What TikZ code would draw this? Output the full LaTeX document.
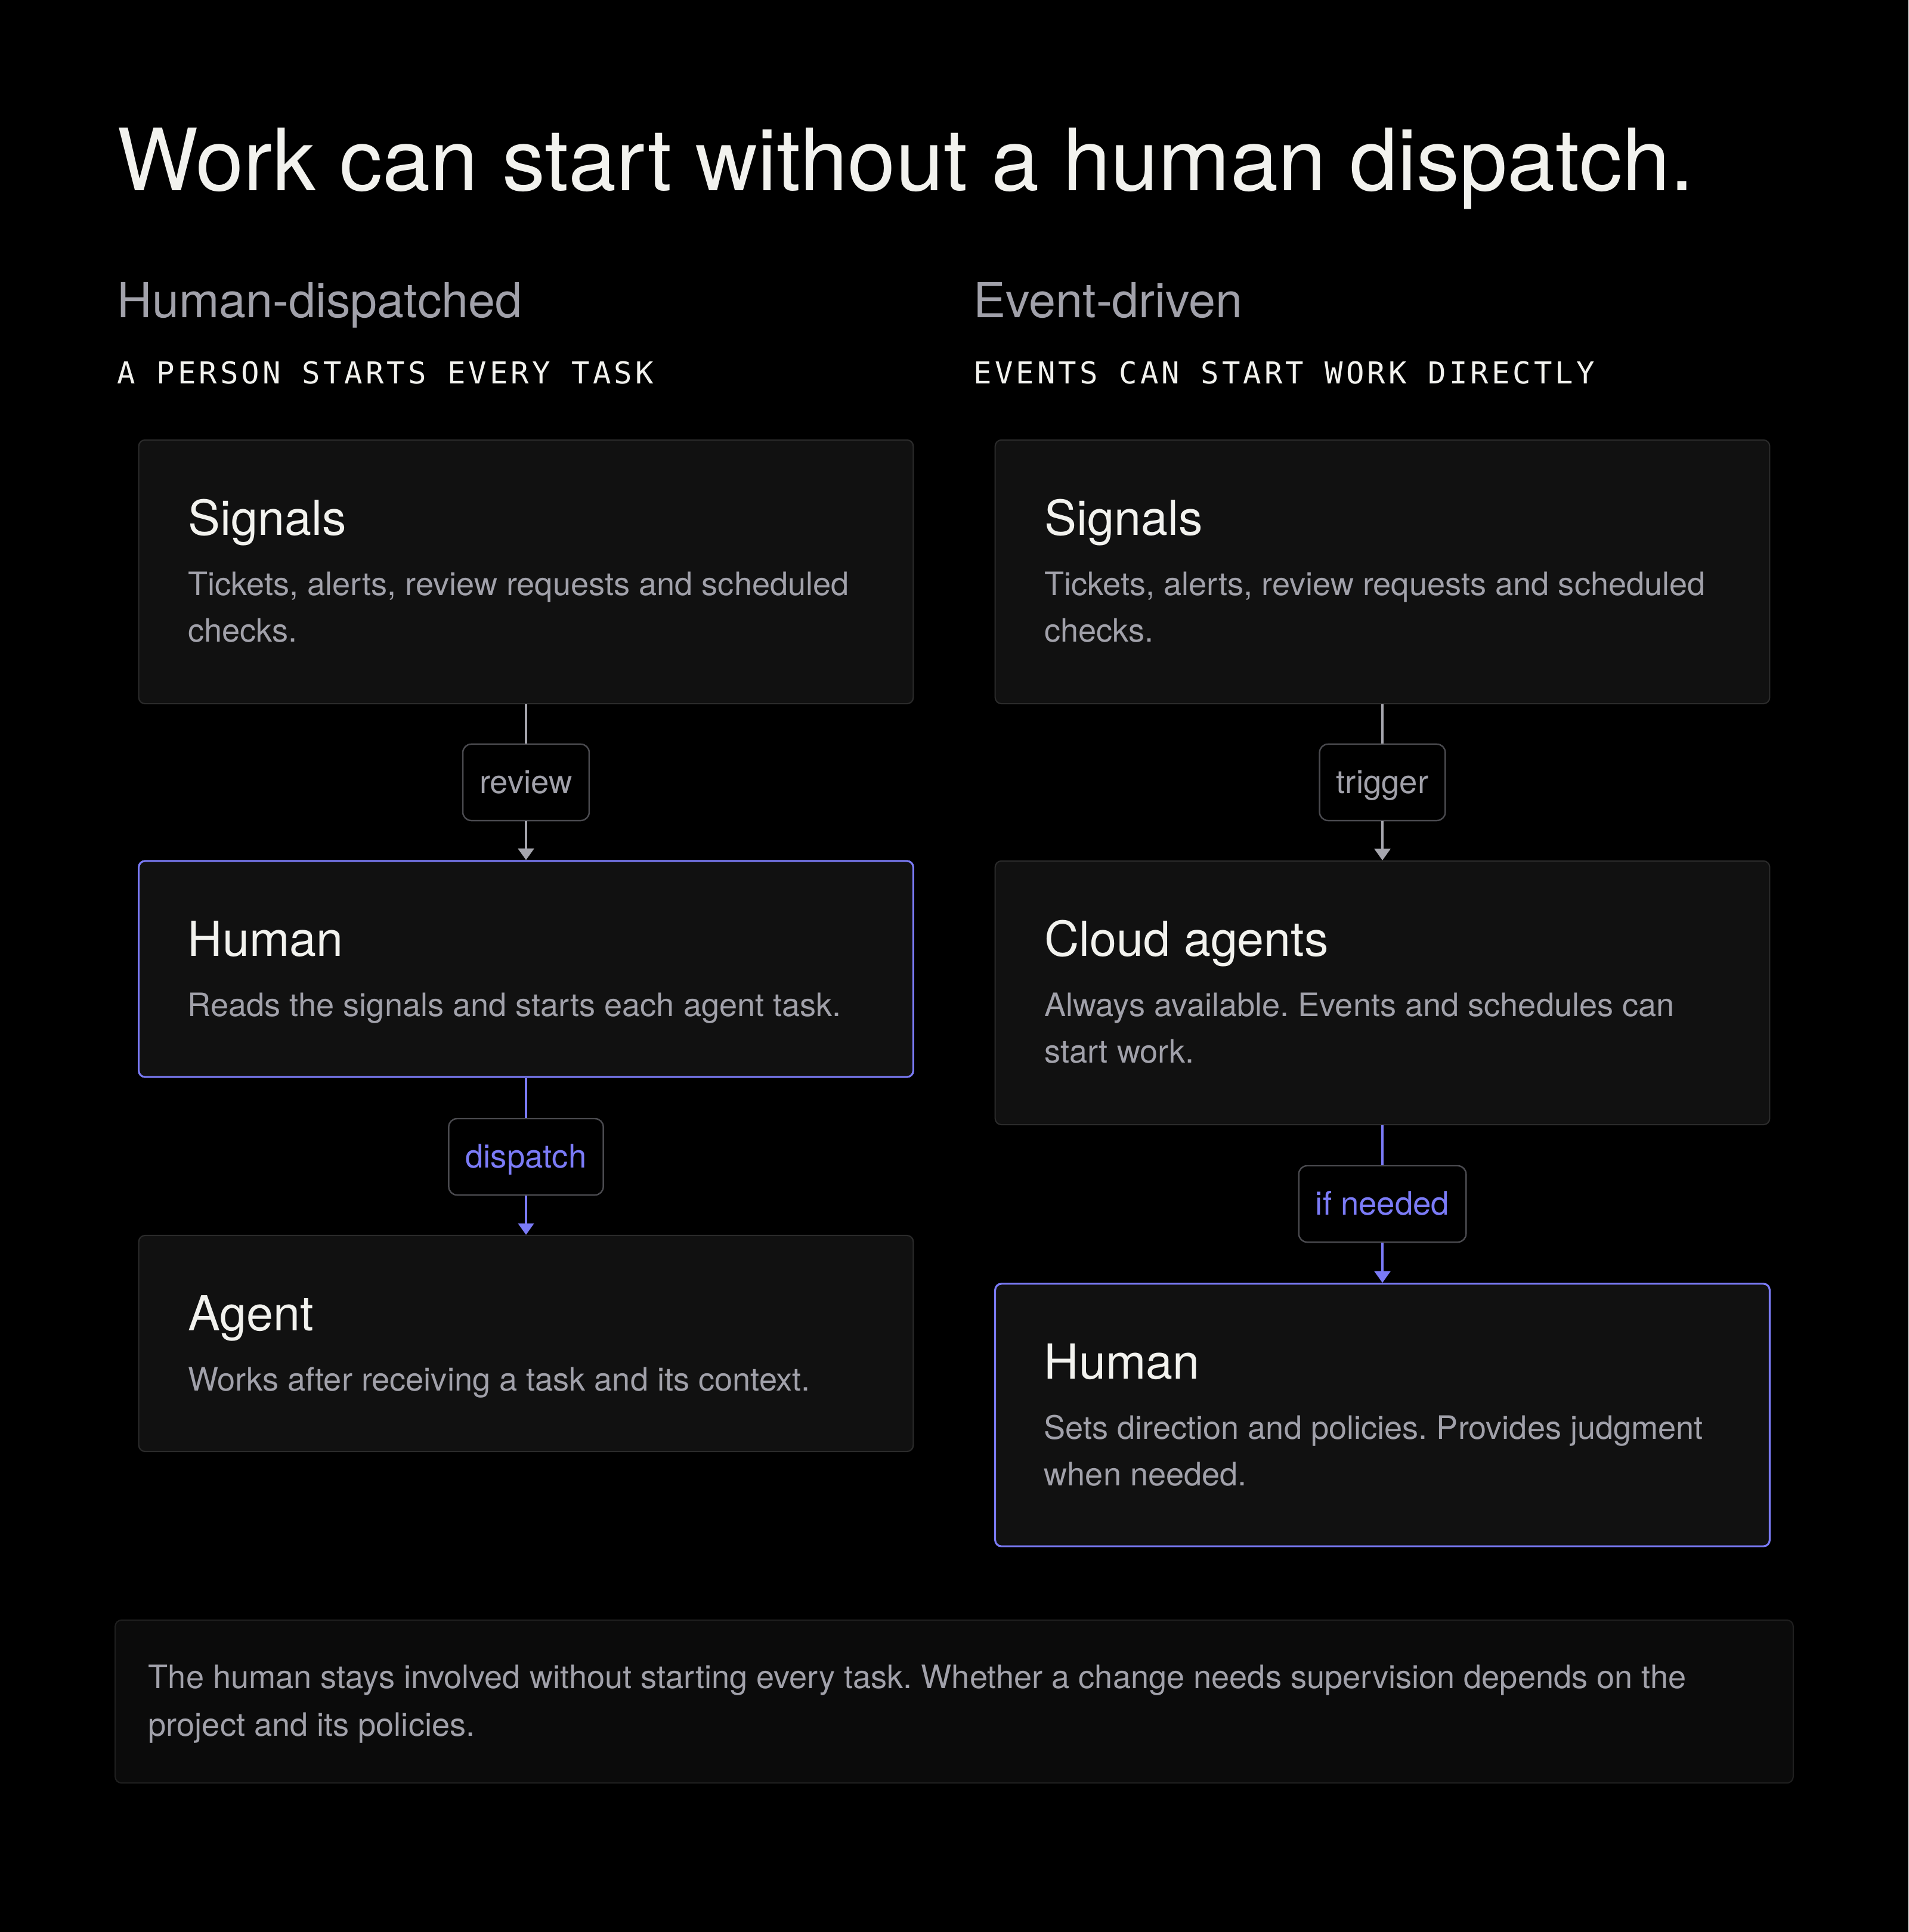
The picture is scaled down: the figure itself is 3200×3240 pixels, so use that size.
\documentclass[tikz,border=0pt]{standalone}
\usepackage{fontspec}
\setmainfont{TeX Gyre Heros}
\newfontfamily\capsmono[LetterSpace=10]{DejaVu Sans Mono}
\usetikzlibrary{arrows.meta, calc, positioning}

\definecolor{cardfill}{HTML}{111111}
\definecolor{cardline}{HTML}{2B2B2B}
\definecolor{notefill}{HTML}{0B0B0B}
\definecolor{noteline}{HTML}{1F1F1F}
\definecolor{accent}{HTML}{7B7BF7}
\definecolor{textwhite}{HTML}{F2F2EE}
\definecolor{textmuted}{HTML}{A1A1AA}
\definecolor{tagline}{HTML}{4A4A4F}
\definecolor{linkgray}{HTML}{A6A6AE}

\frenchspacing
\begin{document}
\begin{tikzpicture}[x=0.01cm, y=-0.01cm,
  card/.style={draw=cardline, fill=cardfill, line width=0.6pt, rounded corners=3pt, minimum width=12.98cm, inner sep=0pt},
  humancard/.style={card, draw=accent, line width=0.9pt},
  cardtitle/.style={anchor=base west, text=textwhite, font=\fontsize{23}{28}\selectfont, inner sep=0pt},
  carddesc/.style={anchor=base west, text=textmuted, font=\fontsize{15.4}{22.2}\selectfont, align=left, inner sep=0pt},
  tag/.style={draw=tagline, fill=black, rounded corners=4pt, line width=0.7pt, minimum height=1.28cm, inner xsep=8pt, text height=13.5pt, text depth=3.1pt, text=textmuted, font=\fontsize{15.5}{18}\selectfont},
  link/.style={draw=linkgray, line width=1.1pt},
  linkto/.style={link, -{Triangle[width=7.5pt,length=5.5pt]}}
]
\fill[black] (0,0) rectangle (3200,3240);
\useasboundingbox (0,0) rectangle (3200,3240);

% heading
\node[anchor=base west, inner sep=0pt, text=textwhite, font=\fontsize{41}{48}\selectfont] (title) at (196,320) {Work can start without a human dispatch.};
\node[anchor=base west, inner sep=0pt, text=textmuted, font=\fontsize{23}{28}\selectfont] (lhead) at (196,533) {Human-dispatched};
\node[anchor=base west, inner sep=0pt, text=textwhite, font=\capsmono\fontsize{14.4}{18}\selectfont] (lsub) at (196,643) {A PERSON STARTS EVERY TASK};
\node[anchor=base west, inner sep=0pt, text=textmuted, font=\fontsize{23}{28}\selectfont] (rhead) at (1632,533) {Event-driven};
\node[anchor=base west, inner sep=0pt, text=textwhite, font=\capsmono\fontsize{14.4}{18}\selectfont] (rsub) at (1632,643) {EVENTS CAN START WORK DIRECTLY};

% left column
\node[card, minimum height=4.42cm] (lsig) at (882,959) {};
\node[cardtitle] (lsigT) at ($(lsig.north west)+(83,161)$) {Signals};
\node[carddesc] (lsigD) at ($(lsig.north west)+(83,340)$) {Tickets, alerts, review requests and scheduled\\checks.};

\node[humancard, minimum height=3.62cm] (lhum) at (882,1625) {};
\node[cardtitle] (lhumT) at ($(lhum.north west)+(83,161)$) {Human};
\node[carddesc] (lhumD) at ($(lhum.north west)+(83,262)$) {Reads the signals and starts each agent task.};

\node[card, minimum height=3.62cm] (lagt) at (882,2253) {};
\node[cardtitle] (lagtT) at ($(lagt.north west)+(83,161)$) {Agent};
\node[carddesc] (lagtD) at ($(lagt.north west)+(83,262)$) {Works after receiving a task and its context.};

\node[tag] (lrev) at (882,1312) {review};
\node[tag, text=accent] (ldis) at (882,1940) {dispatch};

\draw[link] (lsig) -- (lrev);
\draw[linkto] (lrev) -- (lhum);
\draw[link, draw=accent] (lhum) -- (ldis);
\draw[linkto, draw=accent, fill=accent] (ldis) -- (lagt);

% right column
\node[card, minimum height=4.42cm] (rsig) at (2318,959) {};
\node[cardtitle] (rsigT) at ($(rsig.north west)+(83,161)$) {Signals};
\node[carddesc] (rsigD) at ($(rsig.north west)+(83,340)$) {Tickets, alerts, review requests and scheduled\\checks.};

\node[card, minimum height=4.42cm] (rcld) at (2318,1665) {};
\node[cardtitle] (rcldT) at ($(rcld.north west)+(83,161)$) {Cloud agents};
\node[carddesc] (rcldD) at ($(rcld.north west)+(83,340)$) {Always available. Events and schedules can\\start work.};

\node[humancard, minimum height=4.40cm] (rhum) at (2318,2373) {};
\node[cardtitle] (rhumT) at ($(rhum.north west)+(83,161)$) {Human};
\node[carddesc] (rhumD) at ($(rhum.north west)+(83,340)$) {Sets direction and policies. Provides judgment\\when needed.};

\node[tag] (rtrg) at (2318,1312) {trigger};
\node[tag, text=accent] (rifn) at (2318,2019) {if needed};

\draw[link] (rsig) -- (rtrg);
\draw[linkto] (rtrg) -- (rcld);
\draw[link, draw=accent] (rcld) -- (rifn);
\draw[linkto, draw=accent, fill=accent] (rifn) -- (rhum);

% note
\node[draw=noteline, fill=notefill, line width=0.6pt, rounded corners=3pt, minimum width=28.12cm, minimum height=2.73cm, inner sep=0pt] (note) at (1600,2853.5) {};
\node[carddesc, font=\fontsize{15.4}{22.8}\selectfont] (noteT) at ($(note.north west)+(56,196)$) {The human stays involved without starting every task. Whether a change needs supervision depends on the\\project and its policies.};
\end{tikzpicture}
\end{document}
